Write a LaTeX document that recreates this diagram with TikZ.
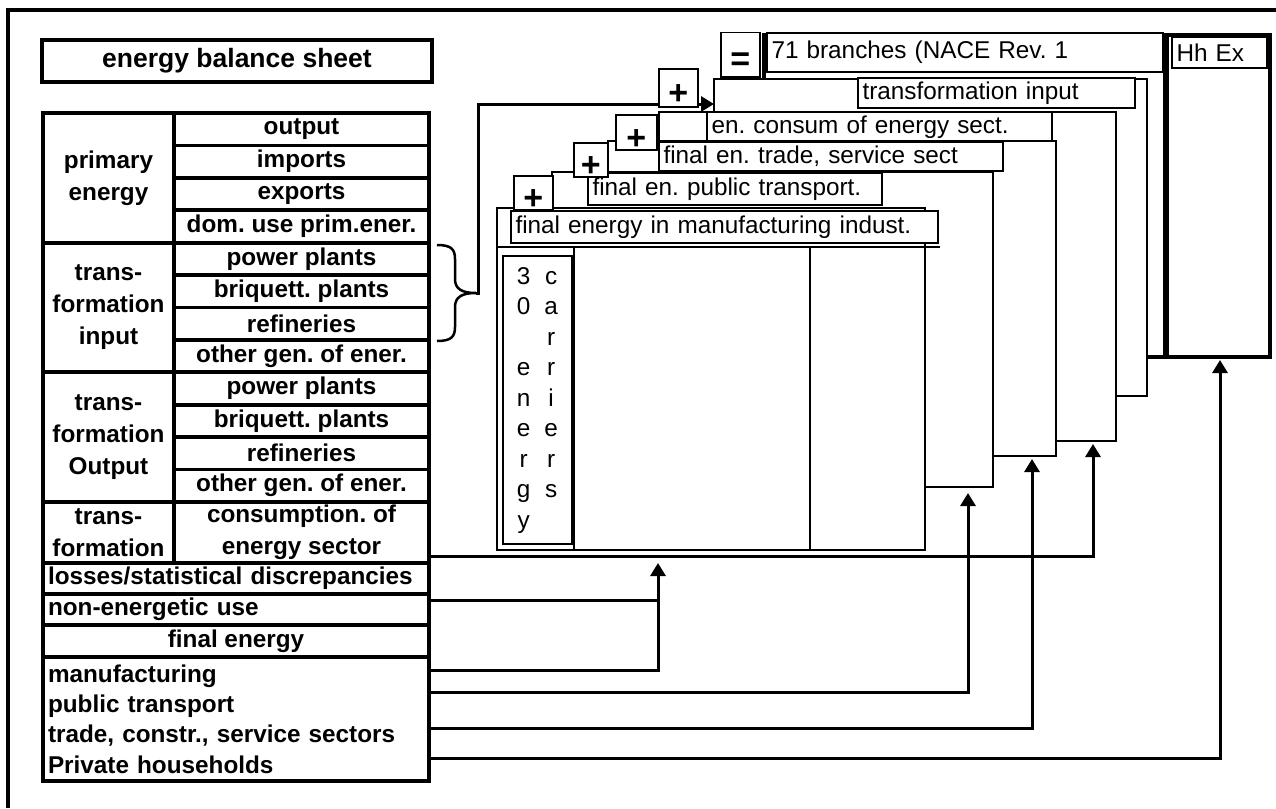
\documentclass[tikz,border=0pt]{standalone}
\usepackage{fontspec}
\setmainfont{Liberation Sans}
\usepackage{tikz}
\usetikzlibrary{positioning, arrows.meta, calc}

\newcommand{\tabfont}{\fontsize{24.3}{32}\selectfont}
\newcommand{\opsign}[2]{\raisebox{#1}[0pt][0pt]{#2}\hspace{7pt}}
\frenchspacing

\begin{document}
\begin{tikzpicture}[
    x=1pt, y=-1pt,
    cell/.style={rectangle, draw=black, line width=3.8pt, inner sep=0pt, outer sep=0pt, minimum height=32.4pt, align=center, font=\tabfont\bfseries},
    subcell/.style={cell, minimum width=255pt},
    groupcell/.style={cell, minimum width=131pt, minimum height=129.6pt},
    widecell/.style={cell, inner xsep=5pt, text width=376pt, align=left},
    sheet/.style={rectangle, draw=black, fill=white, line width=1.5pt, inner sep=0pt, outer sep=0pt, anchor=north west},
    tag/.style={rectangle, draw=black, fill=white, line width=1.5pt, inner xsep=4.5pt, inner ysep=0pt, outer sep=0pt, anchor=north west, align=left, font=\fontsize{24.3}{29}\selectfont},
    opbox/.style={rectangle, draw=black, fill=white, line width=1.5pt, inner sep=0pt, anchor=north west, font=\fontsize{34}{34}\selectfont\bfseries},
    conn/.style={draw=black, line width=3pt},
    arr/.style={conn, -{Triangle[width=15pt, length=13pt]}}
]
    \useasboundingbox (0,0) rectangle (1276,808);
    \draw[line width=3.3pt] (8,808) -- (8,10) -- (1276,10);

    \node[cell, line width=4.5pt, minimum width=390pt, minimum height=42pt, anchor=north west, font=\fontsize{26.5}{30}\selectfont\bfseries] (title) at (42,40) {energy balance sheet};

    % primary energy
    \node[groupcell, anchor=north west] (prim) at (43,113) {primary\\energy};
    \node[subcell, anchor=north west] (pout) at (174,113) {output};
    \node[subcell, below=0pt of pout] (pimp) {imports};
    \node[subcell, below=0pt of pimp] (pexp) {exports};
    \node[subcell, below=0pt of pexp] (pdom) {dom. use prim.ener.};

    % transformation input
    \node[groupcell, below=0pt of prim] (tin) {trans-\\formation\\input};
    \node[subcell, below=0pt of pdom] (tinpow) {power plants};
    \node[subcell, below=0pt of tinpow] (tinbri) {briquett. plants};
    \node[subcell, below=0pt of tinbri] (tinref) {refineries};
    \node[subcell, below=0pt of tinref] (tinoth) {other gen. of ener.};

    % transformation output
    \node[groupcell, below=0pt of tin] (tout) {trans-\\formation\\Output};
    \node[subcell, below=0pt of tinoth] (toutpow) {power plants};
    \node[subcell, below=0pt of toutpow] (toutbri) {briquett. plants};
    \node[subcell, below=0pt of toutbri] (toutref) {refineries};
    \node[subcell, below=0pt of toutref] (toutoth) {other gen. of ener.};

    % energy sector and final energy
    \node[cell, minimum width=131pt, minimum height=61.2pt, below=0pt of tout] (tcons) {trans-\\formation};
    \node[subcell, minimum height=61.2pt, below=0pt of toutoth] (cons) {consumption. of\\energy sector};
    \node[widecell, minimum height=31pt, anchor=north west] (losses) at (tcons.south west) {losses/statistical discrepancies};
    \node[widecell, minimum height=31pt, below=0pt of losses] (nonen) {non-energetic use};
    \node[cell, minimum width=386pt, minimum height=32pt, below=0pt of nonen] (final) {final energy};
    \node[widecell, minimum height=124pt, below=0pt of final, font=\fontsize{24.3}{30.3}\selectfont\bfseries] (sectors) {manufacturing\\public transport\\trade, constr., service sectors\\Private households};

    % stacked sheets, back to front
    \node[sheet, line width=4.5pt, minimum width=401pt, minimum height=322pt] (branches) at (764,35) {};
    \node[sheet, line width=4.5pt, minimum width=103pt, minimum height=322pt] (hhex) at (1167,35) {};
    \node[tag, text width=387pt, minimum height=39pt] (branchtag) at (767,33) {71 branches (NACE Rev. 1};
    \node[tag, text width=86pt, minimum height=31pt] (hhtag) at (1172,37) {Hh Ex};

    \node[sheet, minimum width=433pt, minimum height=317pt] (tisheet) at (714,79) {};
    \node[tag, text width=268pt, minimum height=30pt] (titag) at (858,78) {transformation input};

    \node[sheet, minimum width=457pt, minimum height=329pt] (ecsheet) at (659,112) {};
    \node[tag, text width=336pt, minimum height=30pt] (ectag) at (707,112) {en. consum of energy sect.};

    \node[sheet, minimum width=448pt, minimum height=315pt] (trsheet) at (608,141) {};
    \node[tag, text width=335pt, minimum height=29pt] (trtag) at (659,142) {final en. trade, service sect};

    \node[sheet, minimum width=441pt, minimum height=315pt] (ptsheet) at (552,172) {};
    \node[tag, text width=285pt, minimum height=32pt] (pttag) at (588,173) {final en. public transport.};

    \node[sheet, minimum width=428pt, minimum height=342pt] (front) at (497,208) {};
    \node[tag, text width=418pt, minimum height=32pt] (fronttag) at (511,211) {final energy in manufacturing indust.};
    \draw[line width=1.5pt] ($(front.north west)+(0,39)$) -- ++(443,0);
    \draw[line width=1.5pt] ($(front.north west)+(77,39)$) -- ($(front.south west)+(77,0)$);
    \draw[line width=1.5pt] ($(front.north west)+(313,39)$) -- ($(front.south west)+(313,0)$);
    \node[draw, line width=1.8pt, anchor=north west, minimum width=69pt, minimum height=288pt, inner sep=0pt, font=\fontsize{24.3}{30.5}\selectfont] (carriers) at ($(front.north west)+(5,47)$) {\setlength{\tabcolsep}{7pt}\begin{tabular}{cc}3&c\\0&a\\&r\\e&r\\n&i\\e&e\\r&r\\g&s\\y&\end{tabular}};

    % brace and arrow to transformation input
    \draw[line width=2.5pt] (437,245) .. controls (451,245) and (455,249) .. (455,259)
        -- (455,279) .. controls (455,289) and (462,293) .. (476,293)
        .. controls (462,293) and (455,297) .. (455,307)
        -- (455,327) .. controls (455,337) and (451,341) .. (437,341);
    \coordinate (bracetip) at (476,293);
    \coordinate (tiin) at ($(tisheet.north west)+(0,25)$);
    \draw[arr] (bracetip) -- ++(2,0) |- (tiin);

    % operators
    \node[opbox, minimum width=39pt, minimum height=34pt] (plusa) at (513,175) {\opsign{-17pt}{+}};
    \node[opbox, minimum width=34pt, minimum height=34pt] (plusb) at (573,142) {\opsign{-17pt}{+}};
    \node[opbox, minimum width=41pt, minimum height=35pt] (plusc) at (615,114) {\opsign{-17pt}{+}};
    \node[opbox, minimum width=39pt, minimum height=38pt] (plusd) at (658,68) {\opsign{-17pt}{+}};
    \node[opbox, minimum width=39pt, minimum height=44pt] (equal) at (720,32) {\opsign{-16pt}{=}};

    % connectors from the balance sheet
    \coordinate (consout) at ($(cons.south east)+(0,-7)$);
    \coordinate (nonenout) at ($(nonen.north east)+(0,6)$);
    \coordinate (mfgout) at ($(sectors.north east)+(0,13)$);
    \coordinate (ptout) at ($(sectors.north east)+(0,35)$);
    \coordinate (trout) at ($(sectors.north east)+(0,71)$);
    \coordinate (hhout) at ($(sectors.north east)+(0,101)$);
    \coordinate (frontin) at ($(front.south west)+(161,13)$);
    \coordinate (ptin) at ($(ptsheet.south east)+(-25,6)$);
    \coordinate (trin) at ($(trsheet.south east)+(-24,3)$);
    \coordinate (ecin) at ($(ecsheet.south east)+(-23,3)$);
    \coordinate (hhin) at ($(hhex.south)+(1.5,3)$);

    \draw[arr] (consout) -| (ecin);
    \draw[conn] (nonenout) -- (nonenout -| frontin);
    \draw[arr] (mfgout) -| (frontin);
    \draw[arr] (ptout) -| (ptin);
    \draw[arr] (trout) -| (trin);
    \draw[arr] (hhout) -| (hhin);
\end{tikzpicture}
\end{document}
